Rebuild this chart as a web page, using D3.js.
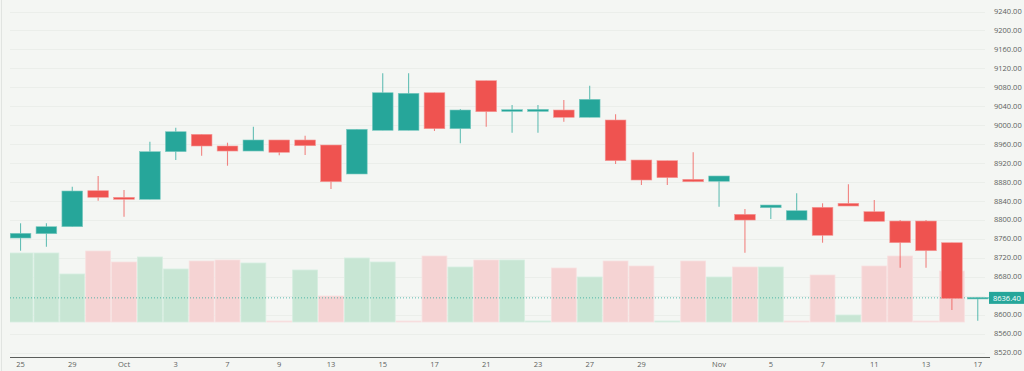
<!DOCTYPE html>
<html>
<head>
<meta charset="utf-8">
<script src="https://cdn.jsdelivr.net/npm/d3@7"></script>
<style>
  body { margin: 0; background: #f4f6f3; }
  svg { display: block; font-family: 'Open Sans', sans-serif; }
</style>
</head>
<body>
<div class="container"></div>
<script>
const dates = ['2024-09-25', '2024-09-26', '2024-09-29', '2024-09-30', '2024-10-01', '2024-10-02', '2024-10-03',
  '2024-10-06', '2024-10-07', '2024-10-08', '2024-10-09', '2024-10-10', '2024-10-13', '2024-10-14', '2024-10-15',
  '2024-10-16', '2024-10-17', '2024-10-20', '2024-10-21', '2024-10-22', '2024-10-23', '2024-10-24', '2024-10-27',
  '2024-10-28', '2024-10-29', '2024-10-30', '2024-10-31', '2024-11-03', '2024-11-04', '2024-11-05', '2024-11-06',
  '2024-11-07', '2024-11-10', '2024-11-11', '2024-11-12', '2024-11-13', '2024-11-14', '2024-11-17']

const opens = [8761.7, 8770.8, 8785.6, 8861.6, 8847.7, 8843.4, 8944, 8980.7, 8956, 8945.4, 8968.7, 8968.7, 8958.1,
  8896.9, 8989.1, 8989.1, 9068.5, 8992.5, 9093.9, 9029, 9029, 9032, 9016.6, 9010.9, 8926.4, 8925, 8885.7, 8881.5,
  8811.8, 8825.7, 8799.7, 8826.6, 8835, 8817.3, 8797.6, 8797.6, 8751.8, 8633]
const highs = [8792.8, 8792.8, 8870, 8892.7, 8863.1, 8965.1, 8994.6, 8980.7, 8963, 8996.8, 8968.7, 8977.8, 8958.1,
  8991.3, 9109.5, 9109.5, 9068.5, 9034, 9093.9, 9042.6, 9042.6, 9053.1, 9083.3, 9022.9, 8926.4, 8925, 8942.7, 8892.7,
  8823, 8831.4, 8856.1, 8835, 8875.1, 8842, 8799.7, 8799.7, 8751.8, 8636.4]
const lows = [8734.9, 8743.4, 8785.6, 8840.5, 8806.7, 8843.4, 8926.4, 8935.5, 8914.4, 8945.4, 8936.4, 8937, 8865.2,
  8896.9, 8989.1, 8989.1, 8987.7, 8961.7, 8996.8, 8984.1, 8984.1, 9007.3, 9016.6, 8918, 8873.7, 8873.7, 8880.6, 8827.8,
  8730.7, 8801.9, 8799.7, 8751.8, 8829.3, 8797, 8699, 8699, 8609.7, 8587]
const closes = [8771.7, 8785.6, 8861, 8847.7, 8843.4, 8944, 8986.2, 8956, 8945.4, 8968.7, 8942.7, 8956.6, 8880.6,
  8991.3, 9068.5, 9067.3, 8992.5, 9032, 9028.4, 9032.7, 9033.5, 9016.6, 9054.6, 8925, 8884.2, 8889.1, 8880.6, 8892.7,
  8799.7, 8831.4, 8819.4, 8767.4, 8829.3, 8797, 8751.8, 8734.9, 8634, 8636.4]
// volume, millions
const volumes = [6.9, 6.9, 4.8, 7.1, 6.0, 6.5, 5.3, 6.1, 6.2, 5.9, 0.1, 5.2, 2.6, 6.4, 6.0, 0.1, 6.6, 5.5, 6.2, 6.2,
  0.1, 5.4, 4.5, 6.1, 5.6, 0.1, 6.1, 4.5, 5.5, 5.5, 0.1, 4.7, 0.7, 5.6, 6.6, 0.1, 5.1, 0]

const tickDates = ['2024-09-25', '2024-09-29', '2024-10-01', '2024-10-03', '2024-10-07', '2024-10-09', '2024-10-13',
  '2024-10-15', '2024-10-17', '2024-10-21', '2024-10-23', '2024-10-27', '2024-10-29', '2024-11-03', '2024-11-05',
  '2024-11-07', '2024-11-11', '2024-11-13', '2024-11-17']
const tickLabels = ['25', '29', 'Oct', '3', '7', '9', '13', '15', '17', '21', '23', '27', '29', 'Nov', '5', '7', '11', '13', '17']

const lastPrice = 8636.40

const width = 1024
const height = 371
const plotLeft = 10
const plotRight = 990
const green = '#26a69a'
const red = '#ef5350'

const data = dates.map((d, i) => ({
  date: d,
  open: opens[i],
  high: highs[i],
  low: lows[i],
  close: closes[i],
  volume: volumes[i],
  volUp: i === 0 ? closes[i] >= opens[i] : closes[i] >= closes[i - 1]
}))

const svg = d3.select('.container').append('svg')
  .attr('width', width)
  .attr('height', height)
  .style('background', '#f4f6f3')

const x = d3.scaleBand()
  .domain(dates)
  .range([7.6, 990.7])

const y = d3.scaleLinear()
  .domain([8520, 9240])
  .range([352.5, 11.5])

const yVol = d3.scaleLinear()
  .domain([0, 10])
  .range([322, 222])

svg.append('defs').append('clipPath')
  .attr('id', 'plot')
  .append('rect')
  .attr('x', plotLeft)
  .attr('y', 0)
  .attr('width', plotRight - plotLeft)
  .attr('height', 358)

// left border
svg.append('line')
  .attr('x1', 1.5).attr('x2', 1.5)
  .attr('y1', 0).attr('y2', height)
  .attr('stroke', '#e1e4e1')

// grid
const priceTicks = d3.range(8520, 9241, 40)
svg.append('g')
  .selectAll('line')
  .data(priceTicks)
  .enter()
  .append('line')
  .attr('x1', plotLeft)
  .attr('x2', plotRight - 5)
  .attr('y1', d => Math.round(y(d)) + 0.5)
  .attr('y2', d => Math.round(y(d)) + 0.5)
  .attr('stroke', '#ebeeea')

const plot = svg.append('g').attr('clip-path', 'url(#plot)')

// volume
plot.selectAll('rect.vol')
  .data(data)
  .enter()
  .append('rect')
  .attr('class', 'vol')
  .attr('x', d => x(d.date) + 0.5)
  .attr('y', d => yVol(d.volume))
  .attr('width', x.bandwidth() - 1)
  .attr('height', d => Math.max(0, yVol(0) - yVol(d.volume)))
  .attr('fill', d => d.volUp ? '#c8e6d4' : '#f5d3d3')
  .attr('stroke', d => d.volUp ? '#d6eee0' : '#f8e0e0')
  .attr('stroke-width', 0.8)

// last price line
plot.append('line')
  .attr('x1', plotLeft)
  .attr('x2', plotRight)
  .attr('y1', y(lastPrice) + 0.5)
  .attr('y2', y(lastPrice) + 0.5)
  .attr('stroke', green)
  .attr('stroke-opacity', 0.75)
  .attr('stroke-dasharray', '1,2')

// wicks
plot.selectAll('line.wick')
  .data(data)
  .enter()
  .append('line')
  .attr('class', 'wick')
  .attr('x1', d => x(d.date) + x.bandwidth() / 2)
  .attr('x2', d => x(d.date) + x.bandwidth() / 2)
  .attr('y1', d => y(d.high))
  .attr('y2', d => y(d.low))
  .attr('stroke', d => d.close >= d.open ? green : red)
  .attr('stroke-opacity', 0.7)
  .attr('stroke-width', 1.1)

// bodies
const bodyW = x.bandwidth() * 0.8
plot.selectAll('rect.body')
  .data(data)
  .enter()
  .append('rect')
  .attr('class', 'body')
  .attr('x', d => x(d.date) + (x.bandwidth() - bodyW) / 2)
  .attr('y', d => y(Math.max(d.open, d.close)))
  .attr('width', bodyW)
  .attr('height', d => Math.max(1.5, Math.abs(y(d.open) - y(d.close))))
  .attr('fill', d => d.close >= d.open ? green : red)
  .attr('stroke', d => d.close >= d.open ? '#7fcbc2' : '#f59a98')
  .attr('stroke-width', 0.6)

// bottom axis
svg.append('line')
  .attr('x1', plotLeft)
  .attr('x2', plotRight)
  .attr('y1', 357.5)
  .attr('y2', 357.5)
  .attr('stroke', '#5a5d5a')

svg.append('g')
  .selectAll('text')
  .data(tickDates)
  .enter()
  .append('text')
  .attr('x', d => x(d) + x.bandwidth() / 2)
  .attr('y', 367)
  .attr('text-anchor', 'middle')
  .attr('font-size', '7.5px')
  .attr('fill', '#5c5f5c')
  .text((d, i) => tickLabels[i])

// right axis
svg.append('g')
  .selectAll('text')
  .data(priceTicks.filter(d => Math.abs(y(d) - y(lastPrice)) > 9))
  .enter()
  .append('text')
  .attr('x', 994)
  .attr('y', d => y(d) + 2.6)
  .attr('font-size', '7.5px')
  .attr('fill', '#5c5f5c')
  .text(d => d3.format('.2f')(d))

// last price label
svg.append('rect')
  .attr('x', 989)
  .attr('y', y(lastPrice) - 5.5)
  .attr('width', 36)
  .attr('height', 12)
  .attr('fill', green)

svg.append('text')
  .attr('x', 993)
  .attr('y', y(lastPrice) + 3.2)
  .attr('font-size', '7.5px')
  .attr('fill', '#fff')
  .text(d3.format('.2f')(lastPrice))
</script>
</body>
</html>
